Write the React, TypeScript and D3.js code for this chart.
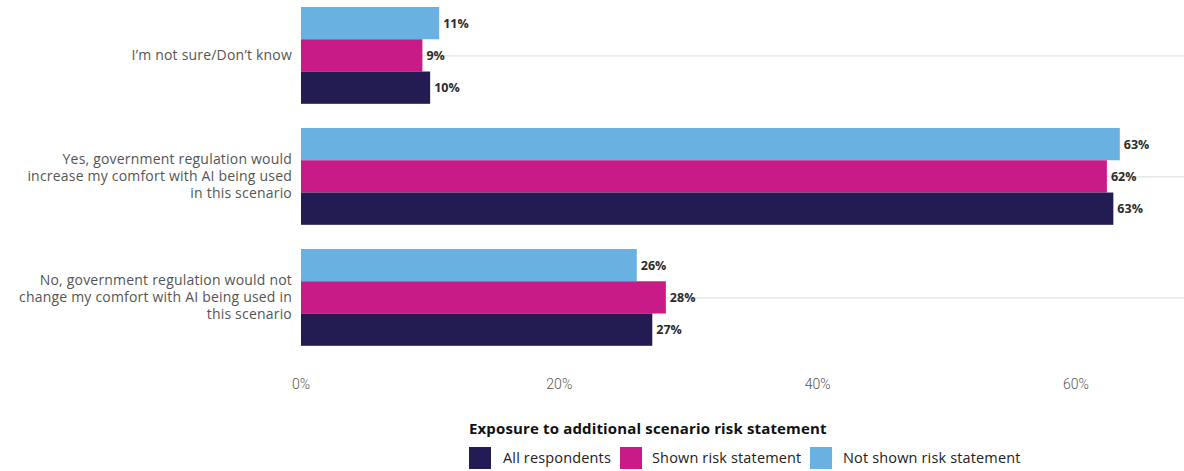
import React from "react";
import * as d3 from "d3";

const categories = [
  "I’m not sure/Don’t know",
  "Yes, government regulation would increase my comfort with AI being used in this scenario",
  "No, government regulation would not change my comfort with AI being used in this scenario",
];
const categoryLines = [
  ["I’m not sure/Don’t know"],
  ["Yes, government regulation would", "increase my comfort with AI being used", "in this scenario"],
  ["No, government regulation would not", "change my comfort with AI being used in", "this scenario"],
];
const seriesNames = ["Not shown risk statement", "Shown risk statement", "All respondents"];
const legendOrder = ["All respondents", "Shown risk statement", "Not shown risk statement"];
const notShownValues = [10.7, 63.4, 26.0];
const shownValues = [9.4, 62.4, 28.25];
const allValues = [10.0, 62.9, 27.2];
const xTicks = [0, 20, 40, 60];
const legendTitle = "Exposure to additional scenario risk statement";

const colors: Record<string, string> = {
  "All respondents": "#221c52",
  "Shown risk statement": "#c81b88",
  "Not shown risk statement": "#69b1e1",
};

const seriesValues: Record<string, number[]> = {
  "Not shown risk statement": notShownValues,
  "Shown risk statement": shownValues,
  "All respondents": allValues,
};

export default function App() {
  const W = 1184;
  const H = 471;
  const left = 301;
  const x = d3.scaleLinear().domain([0, 20]).range([left, left + 258.3]);
  const y = d3
    .scaleBand<string>()
    .domain(categories)
    .range([-5.1, 357.9])
    .paddingInner(0.2)
    .paddingOuter(0.1);
  const inner = d3.scaleBand<string>().domain(seriesNames).range([0, y.bandwidth()]);
  const font = "'Open Sans', sans-serif";

  const legendXs = [469, 620, 810];
  const legendTextXs = [503, 652, 843];

  return (
    <svg width={W} height={H} style={{ position: "absolute", left: 0, top: 0 }}>
      <rect width={W} height={H} fill="#fff" />
      {categories.map((c) => (
        <line
          key={c}
          x1={left}
          x2={W}
          y1={(y(c) as number) + y.bandwidth() / 2 + 0.5}
          y2={(y(c) as number) + y.bandwidth() / 2 + 0.5}
          stroke="#dcdcdc"
          strokeWidth={1}
        />
      ))}
      {categories.map((c, ci) =>
        seriesNames.map((s) => {
          const v = seriesValues[s][ci];
          const by = (y(c) as number) + (inner(s) as number);
          return (
            <g key={c + s}>
              <rect x={x(0)} y={by} width={x(v) - x(0)} height={inner.bandwidth()} fill={colors[s]} />
              <text
                x={x(v) + 4}
                y={by + inner.bandwidth() / 2}
                dy="0.35em"
                fontFamily={font}
                fontSize={12.5}
                fontWeight={700}
                fill="#2b2b2b"
              >
                {Math.round(v)}%
              </text>
            </g>
          );
        })
      )}
      {categories.map((c, ci) => {
        const lines = categoryLines[ci];
        const cy = (y(c) as number) + y.bandwidth() / 2;
        const lh = 17;
        return (
          <text key={c} textAnchor="end" fontFamily={font} fontSize={14} letterSpacing={0.2} fill="#555">
            {lines.map((l, li) => (
              <tspan key={li} x={292} y={cy + (li - (lines.length - 1) / 2) * lh} dy="0.35em">
                {l}
              </tspan>
            ))}
          </text>
        );
      })}
      {xTicks.map((t) => (
        <text
          key={t}
          x={x(t)}
          y={384}
          dy="0.35em"
          textAnchor="middle"
          fontFamily="Roboto, sans-serif"
          fontWeight={300}
          fontSize={14}
          fill="#555"
        >
          {t}%
        </text>
      ))}
      <text x={469} y={429} dy="0.35em" fontFamily={font} fontWeight={700} fontSize={15} letterSpacing={0.15} fill="#111">
        {legendTitle}
      </text>
      {legendOrder.map((s, i) => (
        <g key={s}>
          <rect x={legendXs[i]} y={447} width={22} height={22} fill={colors[s]} />
          <text x={legendTextXs[i]} y={458} dy="0.35em" fontFamily={font} fontSize={14.5} letterSpacing={0.15} fill="#222">
            {s}
          </text>
        </g>
      ))}
    </svg>
  );
}
